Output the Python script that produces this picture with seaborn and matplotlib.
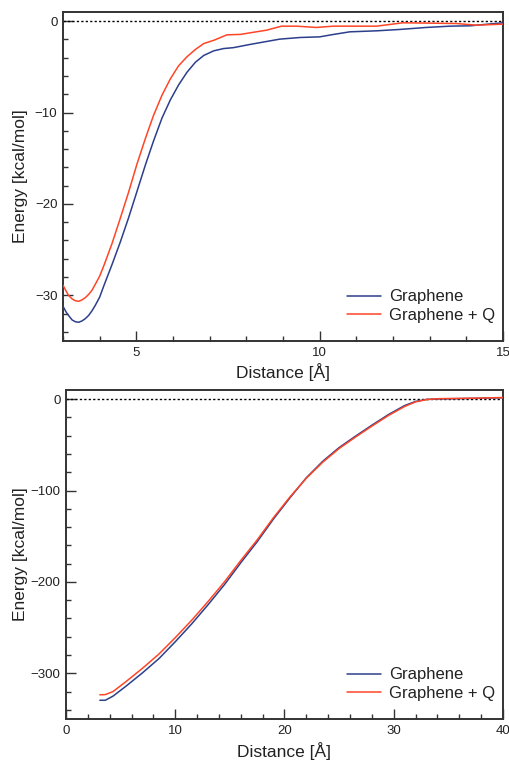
import numpy as np
import pandas as pd
import matplotlib
matplotlib.use("Agg")
import matplotlib.pyplot as plt
from matplotlib.ticker import MultipleLocator
import seaborn as sns

# ---------------- data ----------------
series_names = ["Graphene", "Graphene + Q"]

# top panel (short range)
top_x_g = [3.00, 3.08, 3.15, 3.25, 3.34, 3.43, 3.52, 3.61, 3.70, 3.79, 3.88, 4.00, 4.11, 4.34,
           4.56, 4.79, 5.02, 5.25, 5.47, 5.70, 5.93, 6.15, 6.38, 6.61, 6.84, 7.11, 7.38, 7.65,
           8.10, 8.91, 9.46, 10.00, 10.37, 10.82, 11.55, 12.18, 12.91, 13.55, 14.10, 15.00]
top_y_g = [-31.2, -31.8, -32.2, -32.7, -32.9, -32.95, -32.8, -32.55, -32.2, -31.7, -31.1, -30.2,
           -29.0, -26.6, -24.2, -21.5, -18.6, -15.7, -13.1, -10.6, -8.6, -7.0, -5.6, -4.5,
           -3.75, -3.25, -3.0, -2.9, -2.55, -1.97, -1.79, -1.72, -1.46, -1.17, -1.06, -0.91,
           -0.69, -0.55, -0.51, -0.18]

top_x_q = [3.00, 3.08, 3.15, 3.25, 3.34, 3.43, 3.52, 3.61, 3.70, 3.79, 3.88, 4.00, 4.11, 4.34,
           4.56, 4.79, 5.02, 5.25, 5.47, 5.70, 5.93, 6.15, 6.38, 6.61, 6.84, 7.11, 7.47, 7.84,
           8.10, 8.55, 8.96, 9.37, 9.91, 10.37, 11.55, 12.27, 13.73, 14.27, 15.00]
top_y_q = [-28.9, -29.5, -30.0, -30.4, -30.6, -30.65, -30.5, -30.25, -29.9, -29.45, -28.8, -27.9,
           -26.8, -24.3, -21.6, -18.7, -15.6, -12.8, -10.3, -8.1, -6.3, -4.9, -3.9, -3.1,
           -2.45, -2.1, -1.5, -1.45, -1.28, -0.99, -0.55, -0.55, -0.69, -0.55, -0.55, -0.18,
           -0.26, -0.44, -0.33]

# bottom panel (long range)
bot_x = [3.1, 3.6, 4.3, 5.5, 7.0, 8.5, 10.0, 11.5, 13.0, 14.5, 16.0, 17.5, 19.0, 20.5, 22.0,
         23.5, 25.0, 26.5, 28.0, 29.5, 31.0, 32.0, 33.0, 34.0, 36.0, 38.0, 40.0]
bot_y_g = [-329.5, -329.5, -325, -314, -299.5, -284, -265.5, -246, -225, -203, -179, -156,
           -131, -108, -86, -68, -53, -40.5, -28.5, -17, -7, -2.5, -0.3, 0.2, 0.6, 1.0, 1.5]
bot_y_q = [-323.5, -323.3, -320, -309, -294.5, -279, -261, -242, -221.5, -200, -176.5, -154,
           -129.5, -107, -86.5, -69, -54, -41.5, -29.5, -18, -8, -3, -0.5, 0.5, 0.8, 1.2, 1.8]

top_xticks = [5, 10, 15]
top_yticks = [0, -10, -20, -30]
bot_xticks = [0, 10, 20, 30, 40]
bot_yticks = [0, -100, -200, -300]

x_label = "Distance [Å]"
y_label = "Energy [kcal/mol]"

# ---------------- style ----------------
sns.set_style("white")
plt.rcParams["font.family"] = ["Liberation Sans", "DejaVu Sans"]

colors = {"Graphene": "#2c3f8c", "Graphene + Q": "#ff4526"}
frame_col = "#333333"

df_top = pd.DataFrame({
    "x": top_x_g + top_x_q,
    "y": top_y_g + top_y_q,
    "s": [series_names[0]] * len(top_x_g) + [series_names[1]] * len(top_x_q),
})
df_bot = pd.DataFrame({
    "x": bot_x + bot_x,
    "y": bot_y_g + bot_y_q,
    "s": [series_names[0]] * len(bot_x) + [series_names[1]] * len(bot_x),
})

fig = plt.figure(figsize=(5.10, 7.61), dpi=100)
ax1 = fig.add_axes([63 / 510, 1 - 341 / 761, 440 / 510, 329 / 761])
ax2 = fig.add_axes([66 / 510, 1 - 719 / 761, 437 / 510, 329 / 761])


def style(ax, df, xlim, ylim, xt, yt, xminor, yminor, ylab_x, xlab_y):
    ax.axhline(0, color="black", lw=1.0, ls=(0, (1.6, 1.6)), zorder=1)
    sns.lineplot(data=df, x="x", y="y", hue="s", hue_order=series_names, palette=colors,
                 estimator=None, sort=True, lw=1.1, ax=ax, zorder=3)
    ax.set_xlim(*xlim)
    ax.set_ylim(*ylim)
    ax.set_xticks(xt)
    ax.set_yticks(yt)
    ax.xaxis.set_minor_locator(MultipleLocator(xminor))
    ax.yaxis.set_minor_locator(MultipleLocator(yminor))
    ax.tick_params(which="both", direction="in", bottom=True, left=True, top=False, right=False,
                   colors=frame_col, labelcolor="#222222", labelsize=9.5, width=1.0)
    ax.tick_params(which="major", length=7.5, pad=4)
    ax.tick_params(which="minor", length=3.8)
    for sp in ax.spines.values():
        sp.set_color(frame_col)
        sp.set_linewidth(1.4)
    ax.set_xlabel(x_label, fontsize=12.5, color="#222222")
    ax.set_ylabel(y_label, fontsize=12.5, color="#222222")
    ax.yaxis.set_label_coords(ylab_x, 0.5)
    ax.xaxis.set_label_coords(0.5, xlab_y)
    leg = ax.legend(loc="lower right", bbox_to_anchor=(0.997, 0.035), frameon=False,
                    fontsize=12, handlelength=2.0, handletextpad=0.5, labelspacing=0.2,
                    borderaxespad=0.2, borderpad=0.2)
    for t in leg.get_texts():
        t.set_color("#222222")
    for h in leg.get_lines():
        h.set_linewidth(1.1)


style(ax1, df_top, (3, 15), (-35, 1), top_xticks, top_yticks, 1, 2, -0.080, -0.067)
style(ax2, df_bot, (0, 40), (-350, 10), bot_xticks, bot_yticks, 2, 20, -0.087, -0.070)

fig.savefig("out.png", dpi=100)
